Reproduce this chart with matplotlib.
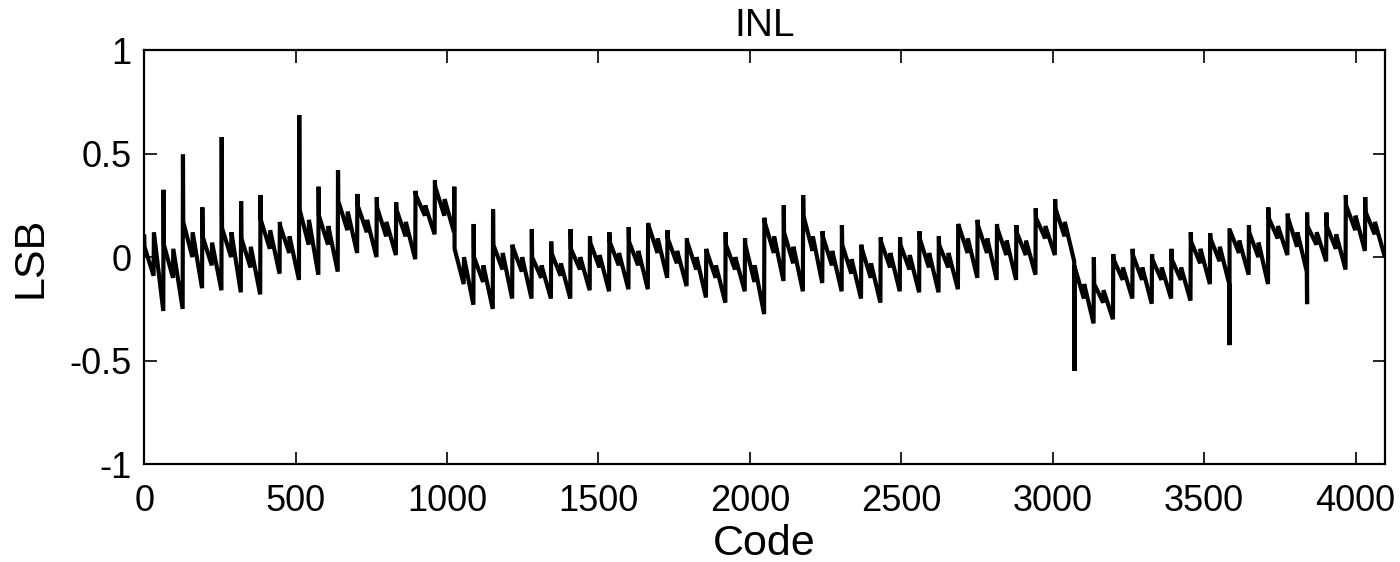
import matplotlib
matplotlib.use("Agg")
import matplotlib.pyplot as plt

plt.rcParams['font.family'] = ['Liberation Sans', 'DejaVu Sans']

# Per 64-code segment values (LSB)
tooth_peak = [0.10, 0.325, 0.495, 0.24, 0.58, 0.27, 0.30, 0.17, 0.686, 0.34, 0.42, 0.305, 0.29, 0.265, 0.32, 0.37,
              0.34, 0.16, 0.23, 0.06, 0.135, 0.075, 0.135, 0.10, 0.12, 0.145, 0.165, 0.13, 0.09, 0.04, 0.12, 0.09,
              0.19, 0.25, 0.30, 0.125, 0.155, 0.06, 0.095, 0.095, 0.125, 0.10, 0.16, 0.18, 0.16, 0.155, 0.235, 0.28,
              -0.05, 0.0, 0.015, 0.04, 0.015, 0.04, 0.12, 0.115, 0.13, 0.155, 0.24, 0.21, 0.215, 0.215, 0.30, 0.29]
tooth_start = [0.05, 0.06, 0.17, 0.10, 0.14, 0.09, 0.18, 0.15, 0.23, 0.20, 0.27, 0.25, 0.24, 0.23, 0.30, 0.34,
               0.04, 0.0, 0.06, 0.05, 0.0, 0.02, 0.04, 0.07, 0.075, 0.075, 0.155, 0.09, 0.075, 0.03, 0.06, 0.06,
               0.17, 0.12, 0.20, 0.10, 0.06, 0.045, 0.075, 0.06, 0.09, 0.06, 0.155, 0.155, 0.14, 0.12, 0.19, 0.235,
               -0.05, -0.13, -0.01, 0.01, -0.01, -0.01, 0.075, 0.09, 0.13, 0.12, 0.19, 0.19, 0.15, 0.15, 0.25, 0.22]
tooth_mid_lo = [-0.09, -0.10, 0.0, -0.04, 0.0, -0.05, 0.04, 0.02, 0.06, 0.06, 0.13, 0.12, 0.10, 0.10, 0.20, 0.20,
                -0.13, -0.12, -0.06, -0.07, -0.10, -0.09, -0.06, -0.05, -0.04, -0.04, 0.02, -0.03, -0.06, -0.10, -0.06, -0.12,
                0.02, -0.03, 0.03, -0.04, -0.08, -0.10, -0.05, -0.06, -0.05, -0.05, 0.02, 0.02, 0.01, 0.01, 0.09, 0.10,
                -0.20, -0.22, -0.11, -0.11, -0.11, -0.11, -0.03, -0.02, 0.02, 0.0, 0.09, 0.05, 0.06, 0.04, 0.13, 0.11]
tooth_mid_hi = [0.12, 0.04, 0.12, 0.07, 0.12, 0.05, 0.13, 0.10, 0.18, 0.15, 0.22, 0.18, 0.17, 0.17, 0.25, 0.28,
                0.0, -0.04, 0.02, 0.0, -0.04, -0.03, 0.0, 0.01, 0.02, 0.03, 0.09, 0.03, 0.0, -0.04, 0.0, -0.04,
                0.10, 0.05, 0.10, 0.03, -0.01, -0.03, 0.02, 0.01, 0.02, 0.02, 0.09, 0.09, 0.08, 0.08, 0.15, 0.17,
                -0.13, -0.16, -0.05, -0.05, -0.05, -0.05, 0.04, 0.05, 0.08, 0.07, 0.15, 0.12, 0.12, 0.11, 0.20, 0.17]
tooth_end = [-0.26, -0.25, -0.15, -0.16, -0.17, -0.18, -0.08, -0.11, -0.085, -0.07, 0.02, 0.0, 0.01, -0.01, 0.11, 0.12,
             -0.23, -0.25, -0.20, -0.20, -0.20, -0.20, -0.16, -0.165, -0.155, -0.155, -0.10, -0.14, -0.195, -0.22, -0.165, -0.275,
             -0.115, -0.165, -0.125, -0.165, -0.20, -0.22, -0.165, -0.17, -0.17, -0.155, -0.10, -0.11, -0.11, -0.085, 0.01, -0.02,
             -0.32, -0.30, -0.20, -0.225, -0.20, -0.21, -0.13, -0.13, -0.085, -0.13, 0.01, -0.07, -0.02, -0.06, 0.03, 0.01]
glitch_codes = [3072, 3584, 3840]
glitch_vals = [-0.55, -0.425, -0.227]

seg = 64
x_codes, y_inl = [], []
for k in range(len(tooth_peak)):
    c0 = k * seg
    if c0 in glitch_codes:
        x_codes.append(c0)
        y_inl.append(glitch_vals[glitch_codes.index(c0)])
    x_codes += [c0, c0 + 1, c0 + 31, c0 + 32, c0 + 63]
    y_inl += [tooth_peak[k], tooth_start[k], tooth_mid_lo[k], tooth_mid_hi[k], tooth_end[k]]

fig = plt.figure(figsize=(14, 5.62), dpi=100)
ax = fig.add_axes([0.103, 0.174, 0.886, 0.737])
ax.plot(x_codes, y_inl, color='black', linewidth=3.0, solid_joinstyle='miter')
ax.set_xlim(0, 4096)
ax.set_ylim(-1, 1)
ax.set_xticks([0, 500, 1000, 1500, 2000, 2500, 3000, 3500, 4000])
ax.set_yticks([-1, -0.5, 0, 0.5, 1])
ax.set_yticklabels(['-1', '-0.5', '0', '0.5', '1'])
ax.tick_params(direction='in', length=9, width=1.2, labelsize=26, top=True, right=True)
ax.tick_params(axis='x', pad=14)
ax.tick_params(axis='y', pad=9)
for s in ax.spines.values():
    s.set_linewidth(1.6)
ax.set_title('INL', fontsize=28, pad=10)
ax.set_xlabel('Code', fontsize=31, labelpad=4)
ax.set_ylabel('LSB', fontsize=31, labelpad=14)
fig.savefig('out.png', dpi=100)
